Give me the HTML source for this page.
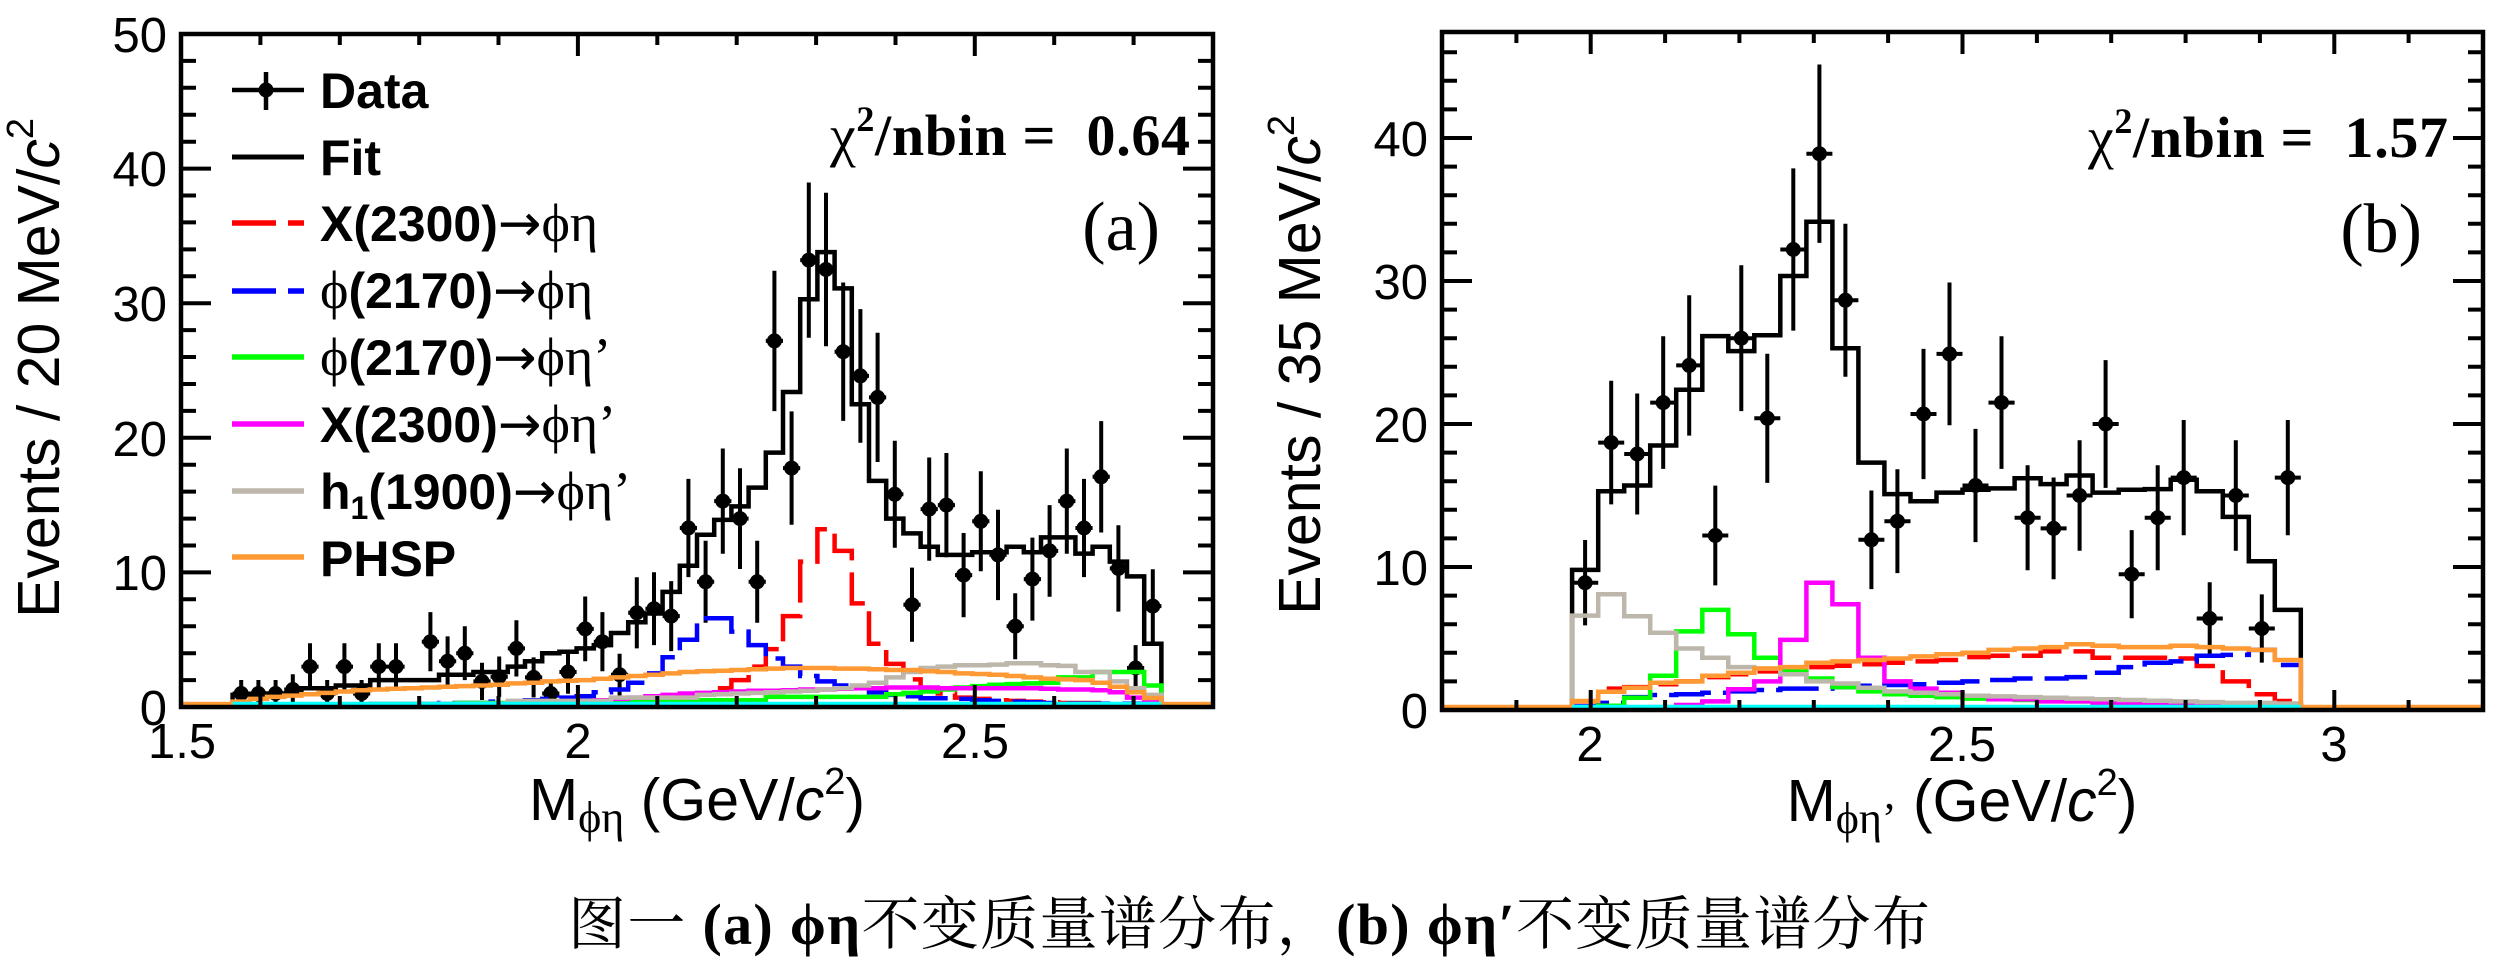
<!DOCTYPE html>
<html>
<head>
<meta charset="utf-8">
<style>
html,body{margin:0;padding:0;background:#fff;}
svg{display:block;}
</style>
</head>
<body>
<svg xmlns="http://www.w3.org/2000/svg" width="2505" height="976" viewBox="0 0 2505 976">
<rect x="0" y="0" width="2505" height="976" fill="#fff"/>

<!-- ================= PANEL A ================= -->
<g fill="none" stroke-linejoin="miter" stroke-linecap="butt">
  <path stroke="#000" stroke-width="4.5" d="M232.6,707V694.9H267V693.5H301.4V688.2H335.8V685.5H370.2V680.1H439V674.7H473.4V672H507.8V666.6H525V661.2H542.2V653.2H559.4V651.8H576.6V648.4H593.8V645.1H611V633H628.2V622.2H645.4V613.5H662.6V591.9H679.8V565.7H697V534.7H714.2V519.9H731.4V506.4H748.6V487.6H765.8V452.6H783V392H800.2V299.2H817.4V252.1H834.6V288.4H851.8V404.2H869V480.9H886.2V518.6H903.4V533.4H920.6V546.8H937.8V554.9H972.2V552.2H1006.6V546.8H1023.8V552.2H1041V537.4H1075.4V553.6H1092.6V546.8H1109.8V561.6H1127V576.4H1144.2V643.7H1161.4V707"/>
  <path stroke="#000" stroke-width="4" d="M241.2,680V707M232.6,693.5H249.8M258.4,680V707M249.8,693.5H267M275.6,680V707M267,693.5H284.2M292.8,674.2V704.8M284.2,689.5H301.4M310,643.3V689.9M301.4,666.6H318.6M327.2,680V707M318.6,693.5H335.8M344.4,643.3V689.9M335.8,666.6H353M361.6,680V707M353,693.5H370.2M378.8,643.3V689.9M370.2,666.6H387.4M396,643.3V689.9M387.4,666.6H404.6M430.4,612.1V671.3M421.8,641.7H439M447.6,636.4V686M439,661.2H456.2M464.8,626.3V680.1M456.2,653.2H473.4M482,662.8V700M473.4,681.4H490.6M499.2,656.5V696.9M490.6,676.7H507.8M516.4,620.3V676.5M507.8,648.4H525M533.6,657.4V697.4M525,677.4H542.2M550.8,680V707M542.2,693.5H559.4M568,650.3V693.7M559.4,672H576.6M585.2,596.5V661.3M576.6,628.9H593.8M602.4,612.1V671.3M593.8,641.7H611M619.6,653.8V695.6M611,674.7H628.2M636.8,577.2V648.4M628.2,612.8H645.4M654,572.3V645.1M645.4,608.7H662.6M671.2,581.1V651.1M662.6,616.1H679.8M688.4,478.9V577.1M679.8,528H697M705.6,540.8V622.8M697,581.8H714.2M722.8,448.5V553.7M714.2,501.1H731.4M740,468.2V569M731.4,518.6H748.6M757.2,540.8V622.8M748.6,581.8H765.8M774.4,270.7V411.1M765.8,340.9H783M791.6,411.4V524.8M783,468.1H800.2M808.8,182.5V337.7M800.2,260.1H817.4M826,192.8V346.2M817.4,269.5H834.6M843.2,282.5V420.9M834.6,351.7H851.8M860.4,309.1V442.7M851.8,375.9H869M877.6,332.8V462M869,397.4H886.2M894.8,440.8V547.8M886.2,494.3H903.4M912,567.6V641.8M903.4,604.7H920.6M929.2,457.5V560.7M920.6,509.1H937.8M946.4,453V557.2M937.8,505.1H955M963.6,533V617.2M955,575.1H972.2M980.8,471.3V571.3M972.2,521.3H989.4M998,509.7V600.1M989.4,554.9H1006.6M1015.2,593.2V659.2M1006.6,626.2H1023.8M1032.4,537.6V620.6M1023.8,579.1H1041M1049.6,505.1V596.7M1041,550.9H1058.2M1066.8,448.5V553.7M1058.2,501.1H1075.4M1084,478.9V577.1M1075.4,528H1092.6M1101.2,421.1V532.5M1092.6,476.8H1109.8M1118.4,525.2V611.6M1109.8,568.4H1127M1135.6,645.1V690.9M1127,668H1144.2M1152.8,569.2V643M1144.2,606.1H1161.4"/>
</g>
<path fill="#000" d="M233.7,693.5a7.5,7.5 0 1,0 15,0a7.5,7.5 0 1,0-15,0M250.9,693.5a7.5,7.5 0 1,0 15,0a7.5,7.5 0 1,0-15,0M268.1,693.5a7.5,7.5 0 1,0 15,0a7.5,7.5 0 1,0-15,0M285.3,689.5a7.5,7.5 0 1,0 15,0a7.5,7.5 0 1,0-15,0M302.5,666.6a7.5,7.5 0 1,0 15,0a7.5,7.5 0 1,0-15,0M319.7,693.5a7.5,7.5 0 1,0 15,0a7.5,7.5 0 1,0-15,0M336.9,666.6a7.5,7.5 0 1,0 15,0a7.5,7.5 0 1,0-15,0M354.1,693.5a7.5,7.5 0 1,0 15,0a7.5,7.5 0 1,0-15,0M371.3,666.6a7.5,7.5 0 1,0 15,0a7.5,7.5 0 1,0-15,0M388.5,666.6a7.5,7.5 0 1,0 15,0a7.5,7.5 0 1,0-15,0M422.9,641.7a7.5,7.5 0 1,0 15,0a7.5,7.5 0 1,0-15,0M440.1,661.2a7.5,7.5 0 1,0 15,0a7.5,7.5 0 1,0-15,0M457.3,653.2a7.5,7.5 0 1,0 15,0a7.5,7.5 0 1,0-15,0M474.5,681.4a7.5,7.5 0 1,0 15,0a7.5,7.5 0 1,0-15,0M491.7,676.7a7.5,7.5 0 1,0 15,0a7.5,7.5 0 1,0-15,0M508.9,648.4a7.5,7.5 0 1,0 15,0a7.5,7.5 0 1,0-15,0M526.1,677.4a7.5,7.5 0 1,0 15,0a7.5,7.5 0 1,0-15,0M543.3,693.5a7.5,7.5 0 1,0 15,0a7.5,7.5 0 1,0-15,0M560.5,672a7.5,7.5 0 1,0 15,0a7.5,7.5 0 1,0-15,0M577.7,628.9a7.5,7.5 0 1,0 15,0a7.5,7.5 0 1,0-15,0M594.9,641.7a7.5,7.5 0 1,0 15,0a7.5,7.5 0 1,0-15,0M612.1,674.7a7.5,7.5 0 1,0 15,0a7.5,7.5 0 1,0-15,0M629.3,612.8a7.5,7.5 0 1,0 15,0a7.5,7.5 0 1,0-15,0M646.5,608.7a7.5,7.5 0 1,0 15,0a7.5,7.5 0 1,0-15,0M663.7,616.1a7.5,7.5 0 1,0 15,0a7.5,7.5 0 1,0-15,0M680.9,528a7.5,7.5 0 1,0 15,0a7.5,7.5 0 1,0-15,0M698.1,581.8a7.5,7.5 0 1,0 15,0a7.5,7.5 0 1,0-15,0M715.3,501.1a7.5,7.5 0 1,0 15,0a7.5,7.5 0 1,0-15,0M732.5,518.6a7.5,7.5 0 1,0 15,0a7.5,7.5 0 1,0-15,0M749.7,581.8a7.5,7.5 0 1,0 15,0a7.5,7.5 0 1,0-15,0M766.9,340.9a7.5,7.5 0 1,0 15,0a7.5,7.5 0 1,0-15,0M784.1,468.1a7.5,7.5 0 1,0 15,0a7.5,7.5 0 1,0-15,0M801.3,260.1a7.5,7.5 0 1,0 15,0a7.5,7.5 0 1,0-15,0M818.5,269.5a7.5,7.5 0 1,0 15,0a7.5,7.5 0 1,0-15,0M835.7,351.7a7.5,7.5 0 1,0 15,0a7.5,7.5 0 1,0-15,0M852.9,375.9a7.5,7.5 0 1,0 15,0a7.5,7.5 0 1,0-15,0M870.1,397.4a7.5,7.5 0 1,0 15,0a7.5,7.5 0 1,0-15,0M887.3,494.3a7.5,7.5 0 1,0 15,0a7.5,7.5 0 1,0-15,0M904.5,604.7a7.5,7.5 0 1,0 15,0a7.5,7.5 0 1,0-15,0M921.7,509.1a7.5,7.5 0 1,0 15,0a7.5,7.5 0 1,0-15,0M938.9,505.1a7.5,7.5 0 1,0 15,0a7.5,7.5 0 1,0-15,0M956.1,575.1a7.5,7.5 0 1,0 15,0a7.5,7.5 0 1,0-15,0M973.3,521.3a7.5,7.5 0 1,0 15,0a7.5,7.5 0 1,0-15,0M990.5,554.9a7.5,7.5 0 1,0 15,0a7.5,7.5 0 1,0-15,0M1007.7,626.2a7.5,7.5 0 1,0 15,0a7.5,7.5 0 1,0-15,0M1024.9,579.1a7.5,7.5 0 1,0 15,0a7.5,7.5 0 1,0-15,0M1042.1,550.9a7.5,7.5 0 1,0 15,0a7.5,7.5 0 1,0-15,0M1059.3,501.1a7.5,7.5 0 1,0 15,0a7.5,7.5 0 1,0-15,0M1076.5,528a7.5,7.5 0 1,0 15,0a7.5,7.5 0 1,0-15,0M1093.7,476.8a7.5,7.5 0 1,0 15,0a7.5,7.5 0 1,0-15,0M1110.9,568.4a7.5,7.5 0 1,0 15,0a7.5,7.5 0 1,0-15,0M1128.1,668a7.5,7.5 0 1,0 15,0a7.5,7.5 0 1,0-15,0M1145.3,606.1a7.5,7.5 0 1,0 15,0a7.5,7.5 0 1,0-15,0"/>

<g fill="none" stroke-width="4.5" stroke-linejoin="miter" stroke-linecap="butt">
  <path stroke="#ff0000" stroke-dasharray="44 12" d="M232.6,707V705.7H370.2V705H507.8V704.3H576.6V703H628.2V701.6H645.4V700.3H662.6V698.9H679.8V696.2H697V693.5H714.2V688.2H731.4V680.1H748.6V666.6H765.8V649.1H783V616.1H800.2V561.6H817.4V529.3H834.6V550.9H851.8V603.4H869V643.7H886.2V663.9H903.4V679.4H920.6V688.2H937.8V693.5H955V697.6H972.2V698.9H989.4V700.3H1006.6V700.9H1023.8V701.6H1041V702.3H1058.2V703H1109.8V704.3H1161.4V707"/>
  <path stroke="#0000ff" stroke-dasharray="44 12" d="M232.6,707V706.3H301.4V705.7H370.2V704.3H439V703H490.6V701.6H525V700.3H542.2V698.9H559.4V697.6H576.6V696.2H593.8V692.2H611V689.5H628.2V682.8H645.4V673.4H662.6V657.2H679.8V639.7H697V618.2H731.4V631.6H748.6V645.1H765.8V658.5H783V666.6H800.2V676H817.4V681.4H834.6V685.5H851.8V688.2H869V692.2H886.2V694.9H903.4V696.2H920.6V698.3H955V698.9H972.2V700.3H989.4V700.9H1006.6V701.6H1023.8V702.3H1041V703H1058.2V703.6H1161.4V707"/>
  <path stroke="#00ff00" d="M232.6,707V705.7H456.2V703H628.2V700.3H765.8V696.9H886.2V694.2H903.4V692.9H920.6V691.5H937.8V689.5H955V687.5H972.2V686.1H989.4V684.8H1006.6V684.1H1023.8V683.4H1041V682.8H1058.2V677.4H1092.6V672H1144.2V685.5H1161.4V707"/>
  <path stroke="#ff00ff" d="M232.6,707V706.3H370.2V704.3H542.2V703H576.6V701.6H593.8V700.3H611V698.9H628.2V697.6H645.4V696.2H662.6V694.9H679.8V693.5H697V692.9H714.2V692.2H731.4V691.5H748.6V690.8H783V690.2H800.2V689.5H834.6V688.8H851.8V688.2H886.2V687.5H937.8V688.2H1041V688.8H1058.2V689.5H1092.6V690.2H1109.8V692.2H1127V697.6H1144.2V700.3H1161.4V707"/>
  <path stroke="#bdb6ab" d="M232.6,707V705.7H370.2V703.6H507.8V700.9H611V697.6H697V694.9H714.2V694.2H731.4V693.5H748.6V692.9H765.8V692.2H783V691.5H800.2V690.8H817.4V689.5H834.6V688.2H851.8V685.5H869V682.8H886.2V677.4H903.4V672H920.6V668H937.8V666.6H955V665.3H989.4V664.6H1006.6V663.3H1041V665.3H1058.2V665.9H1075.4V672H1109.8V681.4H1127V688.2H1144.2V694.9H1161.4V707"/>
  <path stroke="#ff9933" d="M181,704H232.6V701.6H249.8V698.9H267V696.9H284.2V695.6H301.4V694.2H318.6V692.9H335.8V691.5H353V690.2H370.2V689.5H387.4V688.8H404.6V688.2H421.8V687.5H439V686.8H456.2V686.1H473.4V685.5H490.6V684.8H507.8V683.4H525V682.8H542.2V681.4H559.4V680.8H576.6V680.1H593.8V678.7H611V677.4H628.2V676H645.4V674.7H662.6V673.4H679.8V672H697V671.3H714.2V670.7H731.4V670H748.6V669.3H765.8V668.6H783V668H834.6V668.6H869V669.3H886.2V670H920.6V671.3H937.8V672H955V673.4H972.2V674H989.4V674.7H1006.6V676H1023.8V677.4H1041V678.7H1058.2V679.4H1075.4V680.1H1092.6V682.8H1109.8V686.8H1127V692.2H1144.2V698H1161.4V704H1213"/>
  <path stroke="#00ffff" stroke-width="5" d="M232.6,704.3H1161.4"/>
</g>

<g fill="none" stroke="#000">
  <rect x="181" y="34" width="1032" height="673" stroke-width="4.5"/>
  <path stroke-width="4" d="M181,572.4h30M181,437.8h30M181,303.2h30M181,168.6h30M181,680.1h15M181,653.2h15M181,626.2h15M181,599.3h15M181,545.5h15M181,518.6h15M181,491.6h15M181,464.7h15M181,410.9h15M181,384h15M181,357h15M181,330.1h15M181,276.3h15M181,249.4h15M181,222.4h15M181,195.5h15M181,141.7h15M181,114.8h15M181,87.8h15M181,60.9h15
  M1213,572.4h-30M1213,437.8h-30M1213,303.2h-30M1213,168.6h-30M1213,680.1h-15M1213,653.2h-15M1213,626.2h-15M1213,599.3h-15M1213,545.5h-15M1213,518.6h-15M1213,491.6h-15M1213,464.7h-15M1213,410.9h-15M1213,384h-15M1213,357h-15M1213,330.1h-15M1213,276.3h-15M1213,249.4h-15M1213,222.4h-15M1213,195.5h-15M1213,141.7h-15M1213,114.8h-15M1213,87.8h-15M1213,60.9h-15
  M577.9,707v-22M974.8,707v-22M260.4,707v-11M339.8,707v-11M419.2,707v-11M498.5,707v-11M657.3,707v-11M736.7,707v-11M816.1,707v-11M895.5,707v-11M1054.2,707v-11M1133.6,707v-11
  M577.9,34v22M974.8,34v22M260.4,34v11M339.8,34v11M419.2,34v11M498.5,34v11M657.3,34v11M736.7,34v11M816.1,34v11M895.5,34v11M1054.2,34v11M1133.6,34v11"/>
</g>

<g font-family="'Liberation Sans', Arial, sans-serif" font-size="49" fill="#000">
  <g text-anchor="end">
    <text x="167" y="725">0</text>
    <text x="167" y="590">10</text>
    <text x="167" y="456">20</text>
    <text x="167" y="321">30</text>
    <text x="167" y="186">40</text>
    <text x="167" y="52">50</text>
  </g>
  <g text-anchor="middle">
    <text x="182" y="758">1.5</text>
    <text x="578" y="758">2</text>
    <text x="975" y="758">2.5</text>
  </g>
</g>

<g font-family="'Liberation Sans', Arial, sans-serif" fill="#000">
  <text transform="translate(59,118) rotate(-90)" text-anchor="end" font-size="59">Events / 20 MeV/<tspan font-style="italic">c</tspan><tspan font-size="38" dy="-26">2</tspan></text>
  <text x="697" y="820" text-anchor="middle" font-size="59">M<tspan font-family="'Liberation Serif', 'DejaVu Serif', serif" font-size="44" dy="12">ϕη</tspan><tspan dy="-12"> (GeV/</tspan><tspan font-style="italic">c</tspan><tspan font-size="38" dy="-26">2</tspan><tspan dy="26">)</tspan></text>
</g>

<text x="1190" y="155" text-anchor="end" font-family="'Liberation Serif', serif" font-weight="bold" font-size="58" style="white-space:pre" xml:space="preserve" textLength="360" lengthAdjust="spacing"><tspan font-weight="normal">χ</tspan><tspan font-size="36" font-weight="bold" dy="-24">2</tspan><tspan dy="24">/nbin =  0.64</tspan></text>
<text x="1160" y="250" text-anchor="end" font-family="'Liberation Serif', serif" font-size="70">(a)</text>

<g fill="none" stroke-linecap="butt">
  <path stroke="#000" stroke-width="4.5" d="M232,90H304M266,72V110"/>
  <circle cx="266" cy="90" r="7.5" fill="#000" stroke="none"/>
  <path stroke="#000" stroke-width="5" d="M232,157H304"/>
  <path stroke="#ff0000" stroke-width="5.5" stroke-dasharray="44 12" d="M232,223H304"/>
  <path stroke="#0000ff" stroke-width="5.5" stroke-dasharray="44 12" d="M232,291H304"/>
  <path stroke="#00ff00" stroke-width="5.5" d="M232,357H304"/>
  <path stroke="#ff00ff" stroke-width="5.5" d="M232,424H304"/>
  <path stroke="#bdb6ab" stroke-width="5.5" d="M232,491H304"/>
  <path stroke="#ff9933" stroke-width="5.5" d="M232,557H304"/>
</g>
<g font-family="'Liberation Sans', Arial, sans-serif" font-weight="bold" font-size="50" fill="#000">
  <text x="320" y="108">Data</text>
  <text x="320" y="175">Fit</text>
  <text x="320" y="241">X(2300)<tspan font-family="'DejaVu Sans', sans-serif" font-weight="normal" font-size="52">→</tspan><tspan font-family="'Liberation Serif', 'DejaVu Serif', serif" font-weight="normal" font-size="54">ϕη</tspan></text>
  <text x="320" y="308"><tspan font-family="'Liberation Serif', 'DejaVu Serif', serif" font-weight="normal" font-size="54">ϕ</tspan>(2170)<tspan font-family="'DejaVu Sans', sans-serif" font-weight="normal" font-size="52">→</tspan><tspan font-family="'Liberation Serif', 'DejaVu Serif', serif" font-weight="normal" font-size="54">ϕη</tspan></text>
  <text x="320" y="375"><tspan font-family="'Liberation Serif', 'DejaVu Serif', serif" font-weight="normal" font-size="54">ϕ</tspan>(2170)<tspan font-family="'DejaVu Sans', sans-serif" font-weight="normal" font-size="52">→</tspan><tspan font-family="'Liberation Serif', 'DejaVu Serif', serif" font-weight="normal" font-size="54">ϕη’</tspan></text>
  <text x="320" y="442">X(2300)<tspan font-family="'DejaVu Sans', sans-serif" font-weight="normal" font-size="52">→</tspan><tspan font-family="'Liberation Serif', 'DejaVu Serif', serif" font-weight="normal" font-size="54">ϕη’</tspan></text>
  <text x="320" y="509">h<tspan font-size="32" dy="10">1</tspan><tspan dy="-10">(1900)</tspan><tspan font-family="'DejaVu Sans', sans-serif" font-weight="normal" font-size="52">→</tspan><tspan font-family="'Liberation Serif', 'DejaVu Serif', serif" font-weight="normal" font-size="54">ϕη’</tspan></text>
  <text x="320" y="576">PHSP</text>
</g>

<!-- ================= PANEL B ================= -->
<g fill="none" stroke-linejoin="miter" stroke-linecap="butt">
  <path stroke="#000" stroke-width="4.5" d="M1572.1,710V569.9H1598.2V491.2H1624.2V485.5H1650.2V445.5H1676.2V389.7H1702.3V336.1H1728.3V351.1H1754.3V335.3H1780.3V276H1806.4V221.7H1832.4V348.2H1858.4V462.6H1884.4V494.1H1910.5V501.2H1936.5V492.6H1962.5V489.8H1988.5V488.4H2014.6V478.3H2040.6V484.1H2066.6V475.5H2092.6V492.6H2118.7V489.8H2144.7V489.1H2170.7V479.8H2196.7V491.2H2222.8V516.9H2248.8V561.3H2274.8V609.9H2300.8V710"/>
  <path stroke="#000" stroke-width="4" d="M1585.1,540V625.4M1572.1,582.7H1598.2M1611.2,380.8V504.4M1598.2,442.6H1624.2M1637.2,393.5V514.5M1624.2,454H1650.2M1663.2,336.3V468.9M1650.2,402.6H1676.2M1689.2,295.2V435.6M1676.2,365.4H1702.3M1715.3,485.6V585.4M1702.3,535.5H1728.3M1741.3,265.3V411.1M1728.3,338.2H1754.3M1767.3,353.7V482.9M1754.3,418.3H1780.3M1793.3,168.4V330.6M1780.3,249.5H1806.4M1819.4,64.5V242.9M1806.4,153.7H1832.4M1845.4,223.8V376.8M1832.4,300.3H1858.4M1871.4,490.5V589.1M1858.4,539.8H1884.4M1897.4,469.3V573.1M1884.4,521.2H1910.5M1923.5,348.9V479.1M1910.5,414H1936.5M1949.5,282.5V425.3M1936.5,353.9H1962.5M1975.5,428.9V542.1M1962.5,485.5H1988.5M2001.5,336.3V468.9M1988.5,402.6H2014.6M2027.6,465.2V570.2M2014.6,517.7H2040.6M2053.6,477.5V579.3M2040.6,528.4H2066.6M2079.6,440.2V550.8M2066.6,495.5H2092.6M2105.6,360.1V487.9M2092.6,424H2118.7M2131.7,530.1V618.3M2118.7,574.2H2144.7M2157.7,465.2V570.2M2144.7,517.7H2170.7M2183.7,420V535.2M2170.7,477.6H2196.7M2209.7,582.3V654.7M2196.7,618.5H2222.8M2235.8,440.2V550.8M2222.8,495.5H2248.8M2261.8,594.4V662.6M2248.8,628.5H2274.8M2287.8,420V535.2M2274.8,477.6H2300.8"/>
</g>
<path fill="#000" d="M1577.6,582.7a7.5,7.5 0 1,0 15,0a7.5,7.5 0 1,0-15,0M1603.7,442.6a7.5,7.5 0 1,0 15,0a7.5,7.5 0 1,0-15,0M1629.7,454a7.5,7.5 0 1,0 15,0a7.5,7.5 0 1,0-15,0M1655.7,402.6a7.5,7.5 0 1,0 15,0a7.5,7.5 0 1,0-15,0M1681.7,365.4a7.5,7.5 0 1,0 15,0a7.5,7.5 0 1,0-15,0M1707.8,535.5a7.5,7.5 0 1,0 15,0a7.5,7.5 0 1,0-15,0M1733.8,338.2a7.5,7.5 0 1,0 15,0a7.5,7.5 0 1,0-15,0M1759.8,418.3a7.5,7.5 0 1,0 15,0a7.5,7.5 0 1,0-15,0M1785.8,249.5a7.5,7.5 0 1,0 15,0a7.5,7.5 0 1,0-15,0M1811.9,153.7a7.5,7.5 0 1,0 15,0a7.5,7.5 0 1,0-15,0M1837.9,300.3a7.5,7.5 0 1,0 15,0a7.5,7.5 0 1,0-15,0M1863.9,539.8a7.5,7.5 0 1,0 15,0a7.5,7.5 0 1,0-15,0M1889.9,521.2a7.5,7.5 0 1,0 15,0a7.5,7.5 0 1,0-15,0M1916,414a7.5,7.5 0 1,0 15,0a7.5,7.5 0 1,0-15,0M1942,353.9a7.5,7.5 0 1,0 15,0a7.5,7.5 0 1,0-15,0M1968,485.5a7.5,7.5 0 1,0 15,0a7.5,7.5 0 1,0-15,0M1994,402.6a7.5,7.5 0 1,0 15,0a7.5,7.5 0 1,0-15,0M2020.1,517.7a7.5,7.5 0 1,0 15,0a7.5,7.5 0 1,0-15,0M2046.1,528.4a7.5,7.5 0 1,0 15,0a7.5,7.5 0 1,0-15,0M2072.1,495.5a7.5,7.5 0 1,0 15,0a7.5,7.5 0 1,0-15,0M2098.1,424a7.5,7.5 0 1,0 15,0a7.5,7.5 0 1,0-15,0M2124.2,574.2a7.5,7.5 0 1,0 15,0a7.5,7.5 0 1,0-15,0M2150.2,517.7a7.5,7.5 0 1,0 15,0a7.5,7.5 0 1,0-15,0M2176.2,477.6a7.5,7.5 0 1,0 15,0a7.5,7.5 0 1,0-15,0M2202.2,618.5a7.5,7.5 0 1,0 15,0a7.5,7.5 0 1,0-15,0M2228.3,495.5a7.5,7.5 0 1,0 15,0a7.5,7.5 0 1,0-15,0M2254.3,628.5a7.5,7.5 0 1,0 15,0a7.5,7.5 0 1,0-15,0M2280.3,477.6a7.5,7.5 0 1,0 15,0a7.5,7.5 0 1,0-15,0"/>

<g fill="none" stroke-width="4.5" stroke-linejoin="miter" stroke-linecap="butt">
  <path stroke="#ff0000" stroke-dasharray="44 12" d="M1572.1,710V701.4H1598.2V688.6H1624.2V687.1H1650.2V684.3H1676.2V681.4H1702.3V677.1H1728.3V674.3H1754.3V671.4H1780.3V669.2H1806.4V667.1H1832.4V665.7H1858.4V664.2H1884.4V662.8H1910.5V661.4H1936.5V660H1962.5V657.1H1988.5V655.7H2040.6V651.4H2092.6V657.7H2170.7V658.5H2196.7V666H2222.8V681.4H2248.8V694.3H2274.8V701H2300.8V710"/>
  <path stroke="#0000ff" stroke-dasharray="44 12" d="M1572.1,710V706.4H1598.2V702.9H1624.2V697.1H1650.2V695H1676.2V694.3H1702.3V692.8H1728.3V691.4H1754.3V690H1780.3V688.6H1832.4V687.1H1858.4V685.7H1884.4V685H1910.5V684.3H1936.5V682.8H1962.5V681.4H1988.5V680H2014.6V678.5H2066.6V677.1H2092.6V672.8H2118.7V667.1H2144.7V662.8H2170.7V661.4H2196.7V655.7H2222.8V654.9H2248.8V649.9H2274.8V665H2300.8V710"/>
  <path stroke="#00ff00" d="M1572.1,710V708.6H1598.2V705.7H1624.2V697.7H1650.2V675.7H1676.2V631.4H1702.3V609.9H1728.3V634.2H1754.3V657.7H1780.3V671.4H1806.4V678.5H1832.4V687.1H1858.4V691.4H1884.4V694.3H1910.5V695.7H1936.5V697.1H1962.5V698.6H1988.5V699.3H2014.6V700H2040.6V700.7H2066.6V701.4H2092.6V702.1H2196.7V703.6H2300.8V710"/>
  <path stroke="#ff00ff" d="M1572.1,710V709.3H1650.2V707.1H1676.2V705H1702.3V701.4H1728.3V689.3H1754.3V681.4H1780.3V639.9H1806.4V582.7H1832.4V604.2H1858.4V657.7H1884.4V681.4H1910.5V688.6H1936.5V692.8H1962.5V695.7H1988.5V699.3H2040.6V701.4H2092.6V702.9H2144.7V703.6H2170.7V704.3H2196.7V705H2248.8V705.7H2300.8V710"/>
  <path stroke="#bdb6ab" d="M1572.1,710V615.6H1598.2V594.2H1624.2V616.3H1650.2V632.8H1676.2V648.5H1702.3V657.7H1728.3V667.1H1754.3V668.5H1780.3V674.3H1806.4V681.4H1832.4V683.5H1858.4V687.7H1884.4V691.4H1910.5V692.8H1936.5V694.3H1962.5V695.7H1988.5V696.4H2014.6V697.1H2040.6V697.8H2066.6V698.6H2092.6V699.3H2118.7V700H2144.7V700.7H2170.7V701.4H2196.7V702.1H2222.8V702.9H2274.8V703.6H2300.8V710"/>
  <path stroke="#ff9933" d="M1442,707H1572.1V701H1598.2V691.7H1624.2V687.7H1650.2V682.8H1676.2V681.4H1702.3V675.7H1728.3V672.8H1754.3V668.5H1780.3V667.1H1806.4V662.8H1832.4V661.4H1858.4V660H1884.4V658.5H1910.5V656.4H1936.5V654.2H1962.5V652.8H1988.5V649.9H2014.6V648.5H2040.6V647.1H2066.6V644.2H2092.6V645.7H2118.7V647.1H2170.7V645.7H2196.7V647.1H2222.8V648.5H2248.8V649.9H2274.8V660H2300.8V707H2483"/>
  <path stroke="#00ffff" stroke-width="5" d="M1572.1,707.3H2300.8"/>
</g>

<g fill="none" stroke="#000">
  <rect x="1442" y="32" width="1041" height="678" stroke-width="4.5"/>
  <path stroke-width="4" d="M1442,567h30M1442,424h30M1442,281h30M1442,138h30M1442,681.4h15M1442,652.8h15M1442,624.2h15M1442,595.6h15M1442,538.4h15M1442,509.8h15M1442,481.2h15M1442,452.6h15M1442,395.4h15M1442,366.8h15M1442,338.2h15M1442,309.6h15M1442,252.4h15M1442,223.8h15M1442,195.2h15M1442,166.6h15M1442,109.4h15M1442,80.8h15M1442,52.2h15
  M2483,567h-30M2483,424h-30M2483,281h-30M2483,138h-30M2483,681.4h-15M2483,652.8h-15M2483,624.2h-15M2483,595.6h-15M2483,538.4h-15M2483,509.8h-15M2483,481.2h-15M2483,452.6h-15M2483,395.4h-15M2483,366.8h-15M2483,338.2h-15M2483,309.6h-15M2483,252.4h-15M2483,223.8h-15M2483,195.2h-15M2483,166.6h-15M2483,109.4h-15M2483,80.8h-15M2483,52.2h-15
  M1590.7,710v-20M1962.5,710v-20M2334.3,710v-20M1516.4,710v-10M1665.1,710v-10M1739.4,710v-10M1813.8,710v-10M1888.1,710v-10M2036.9,710v-10M2111.2,710v-10M2185.6,710v-10M2259.9,710v-10M2408.6,710v-10
  M1590.7,32v22M1962.5,32v22M2334.3,32v22M1516.4,32v11M1665.1,32v11M1739.4,32v11M1813.8,32v11M1888.1,32v11M2036.9,32v11M2111.2,32v11M2185.6,32v11M2259.9,32v11M2408.6,32v11"/>
</g>

<g font-family="'Liberation Sans', Arial, sans-serif" font-size="49" fill="#000">
  <g text-anchor="end">
    <text x="1428" y="728">0</text>
    <text x="1428" y="585">10</text>
    <text x="1428" y="442">20</text>
    <text x="1428" y="299">30</text>
    <text x="1428" y="156">40</text>
  </g>
  <g text-anchor="middle">
    <text x="1590" y="761">2</text>
    <text x="1962" y="761">2.5</text>
    <text x="2334" y="761">3</text>
  </g>
</g>

<g font-family="'Liberation Sans', Arial, sans-serif" fill="#000">
  <text transform="translate(1320,115) rotate(-90)" text-anchor="end" font-size="59">Events / 35 MeV/<tspan font-style="italic">c</tspan><tspan font-size="38" dy="-26">2</tspan></text>
  <text x="1962" y="821" text-anchor="middle" font-size="59">M<tspan font-family="'Liberation Serif', 'DejaVu Serif', serif" font-size="44" dy="12">ϕη’</tspan><tspan dy="-12"> (GeV/</tspan><tspan font-style="italic">c</tspan><tspan font-size="38" dy="-26">2</tspan><tspan dy="26">)</tspan></text>
</g>

<text x="2448" y="157" text-anchor="end" font-family="'Liberation Serif', serif" font-weight="bold" font-size="58" style="white-space:pre" xml:space="preserve" textLength="360" lengthAdjust="spacing"><tspan font-weight="normal">χ</tspan><tspan font-size="36" font-weight="bold" dy="-24">2</tspan><tspan dy="24">/nbin =  1.57</tspan></text>
<text x="2422" y="252" text-anchor="end" font-family="'Liberation Serif', serif" font-size="70">(b)</text>

<!-- caption -->
<text x="568" y="944" font-family="'Liberation Serif', 'Noto Serif CJK SC', serif" font-size="58" fill="#000" textLength="1362" lengthAdjust="spacing">图一 <tspan font-weight="bold">(a) <tspan font-family="'Liberation Serif', 'DejaVu Serif', serif">ϕη</tspan></tspan>不变质量谱分布，<tspan font-weight="bold">(b) <tspan font-family="'Liberation Serif', 'DejaVu Serif', serif">ϕη′</tspan></tspan>不变质量谱分布</text>

</svg>
</body>
</html>
